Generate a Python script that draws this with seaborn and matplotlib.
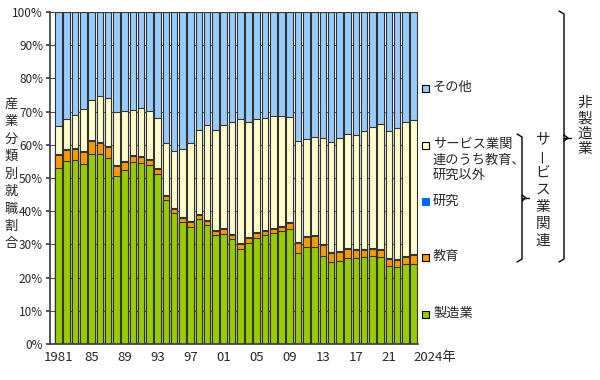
import matplotlib
matplotlib.use("Agg")
import matplotlib.pyplot as plt
from matplotlib.lines import Line2D
from matplotlib.patches import Rectangle
from matplotlib.transforms import ScaledTranslation
import numpy as np
import pandas as pd
import seaborn as sns

# ---- data (percent shares) ----
years = list(range(1981, 2025))

manufacturing = [52.9, 55.1, 55.3, 54.2, 57.2, 57.1, 55.9, 50.6, 52.3, 54.7,
                 54.4, 53.8, 51.1, 43.3, 39.4, 36.6, 35.3, 37.6, 35.7, 32.7,
                 33.2, 31.5, 28.6, 30.4, 31.8, 32.8, 33.4, 34.0, 34.7, 27.5,
                 29.2, 29.3, 26.4, 24.7, 25.1, 26.0, 25.8, 26.1, 26.5, 26.2,
                 23.5, 23.1, 24.0, 24.1]
education = [3.9, 3.4, 3.5, 3.5, 3.8, 3.3, 3.4, 2.9, 2.5, 2.0,
             2.0, 1.5, 1.5, 1.3, 1.2, 1.3, 1.4, 1.2, 1.2, 1.2,
             1.3, 1.4, 1.4, 1.6, 1.7, 1.2, 1.2, 1.3, 1.6, 2.8,
             3.1, 3.2, 3.4, 2.8, 2.6, 2.7, 2.5, 2.3, 2.1, 2.0,
             2.1, 2.3, 2.3, 2.6]
research = [0.3] * 44
service_other = [8.7, 9.1, 9.9, 12.8, 12.1, 13.9, 14.6, 16.2, 15.1, 13.6,
                 14.5, 14.6, 15.2, 15.5, 17.1, 20.4, 23.6, 25.3, 28.7, 30.4,
                 31.2, 33.6, 37.5, 34.7, 34.1, 33.9, 33.9, 33.0, 31.8, 30.5,
                 29.1, 29.4, 31.8, 32.9, 33.9, 34.2, 34.4, 35.5, 36.4, 37.9,
                 38.3, 39.4, 40.3, 40.6]
other = [34.2, 32.1, 31.0, 29.2, 26.6, 25.4, 25.8, 30.0, 29.8, 29.4,
         28.8, 29.8, 31.9, 39.6, 42.0, 41.4, 39.4, 35.6, 34.1, 35.4,
         34.0, 33.2, 32.2, 33.0, 32.1, 31.8, 31.2, 31.4, 31.6, 38.9,
         38.3, 37.8, 38.1, 39.3, 38.1, 36.8, 37.0, 35.8, 34.7, 33.6,
         35.8, 34.9, 33.1, 32.4]

tick_years = [1981, 1985, 1989, 1993, 1997, 2001, 2005, 2009, 2013, 2017, 2021, 2024]
tick_labels = ["1981", "85", "89", "93", "97", "01", "05", "09", "13", "17", "21", "2024年"]

series_names = ["製造業", "教育", "研究", "サービス業関連のうち教育、研究以外", "その他"]
series_values = [manufacturing, education, research, service_other, other]
colors = ["#99CC00", "#FF9900", "#0066FF", "#FFFFCC", "#99CCFF"]

# ---- plot ----
sns.set_theme(style="white")
plt.rcParams["font.family"] = ["Noto Sans CJK JP", "DejaVu Sans"]

W, H = 600, 380
fig = plt.figure(figsize=(W / 100, H / 100), dpi=100)
ax = fig.add_axes([50 / W, 1 - 344 / H, (418 - 50) / W, (344 - 12) / H])


def px(x, y):
    return x / W, 1 - y / H


df = pd.DataFrame({name: vals for name, vals in zip(series_names, series_values)})
df["year"] = [str(y) for y in years]
cum = df[series_names].cumsum(axis=1)

# draw from the top layer down so each lower layer covers the one above
for name, color in reversed(list(zip(series_names, colors))):
    sns.barplot(x=df["year"], y=cum[name], color=color, width=0.8,
                edgecolor="#333333", linewidth=0.8, saturation=1, ax=ax, zorder=2)

ax.set_ylim(0, 100)
ax.set_xlim(-1.03, 43.52)
ax.set_yticks(np.arange(0, 101, 10))
ax.set_yticklabels([f"{v}%" for v in range(0, 101, 10)], fontsize=8.5)
ax.set_xticks([years.index(y) for y in tick_years])
ax.set_xticklabels(tick_labels, fontsize=9.5)
last = ax.get_xticklabels()[-1]
last.set_ha("left")
last.set_transform(last.get_transform() + ScaledTranslation(-7 / 100, 0, fig.dpi_scale_trans))
ax.set_xlabel("")
ax.set_ylabel("")
ax.yaxis.grid(True, color="#505050", linewidth=0.8, zorder=0)
ax.set_axisbelow(True)
ax.tick_params(axis="both", length=3, color="#404040", pad=2, left=True, bottom=False)
for s in ["top", "right"]:
    ax.spines[s].set_visible(False)
for s in ["left", "bottom"]:
    ax.spines[s].set_color("#404040")

# vertical y-axis title, one character per line
for i, ch in enumerate("産業分類別就職割合"):
    fig.text(*px(11, 104 + i * 17.5), ch, fontsize=9.5, ha="center", va="center")

# legend on the right, drawn by hand
legend_items = [
    ("その他", colors[4], 88),
    ("サービス業関\n連のうち教育、\n研究以外", colors[3], 145),
    ("研究", colors[2], 202),
    ("教育", colors[1], 257),
    ("製造業", colors[0], 314),
]
for text, color, y in legend_items:
    fig.add_artist(Rectangle(px(422, y + 3.5), 7 / W, 7 / H, transform=fig.transFigure,
                             facecolor=color, edgecolor="black" if color != colors[2] else color,
                             linewidth=0.8))
    fig.text(*px(433, y - 7), text, fontsize=9.5, ha="left", va="top", linespacing=1.25)


def bracket(x, y_top, y_bot, y_mid, hook=5, tip=7):
    pts = [
        [(x - hook, y_top), (x, y_top + 3), (x, y_bot - 3), (x - hook, y_bot)],
        [(x, y_mid - 3), (x + tip - 3, y_mid), (x, y_mid + 3)],
    ]
    for seg in pts:
        xs = [p[0] / W for p in seg]
        ys = [1 - p[1] / H for p in seg]
        fig.add_artist(Line2D(xs, ys, color="black", linewidth=1, transform=fig.transFigure))
    fig.add_artist(Line2D([x / W, (x + tip) / W], [1 - y_mid / H] * 2, color="black",
                          linewidth=1, transform=fig.transFigure))


bracket(522, 134, 262, 198)
bracket(564, 11, 262, 138)


def vertical_text(x, y0, step, text, size=10.5):
    for i, ch in enumerate(text):
        rot = 90 if ch == "ー" else 0
        fig.text(*px(x, y0 + i * step), ch, fontsize=size, ha="center", va="center",
                 rotation=rot)


vertical_text(543, 139, 17, "サービス業関連")
vertical_text(585, 103, 15.5, "非製造業")

fig.savefig("out.png", dpi=100)
